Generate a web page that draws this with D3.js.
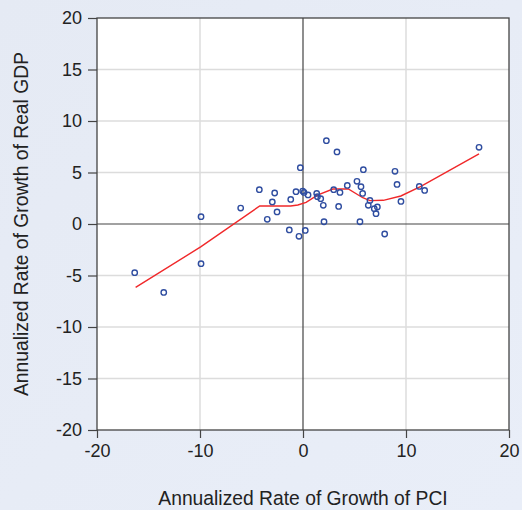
<!DOCTYPE html>
<html>
<head>
<meta charset="utf-8">
<script src="https://cdn.jsdelivr.net/npm/d3@7"></script>
<style>
  html, body { margin: 0; padding: 0; background: #e7ecf6; }
  svg { display: block; }
</style>
</head>
<body>
<svg id="chart" width="522" height="510"></svg>
<script>
// ---- data ----
const pciGrowth = [-16.34, -13.52, -9.90, -9.90, -6.05, -4.24, -3.47, -2.98, -2.75, -2.52,
  -1.33, -1.19, -0.68, -0.39, -0.26, -0.03, 0.10, 0.22, 0.49, 1.33,
  1.40, 1.72, 1.97, 2.04, 2.27, 2.98, 3.30, 3.46, 3.59, 4.30,
  5.24, 5.53, 5.63, 5.79, 5.86, 6.34, 6.50, 6.92, 7.22, 7.09,
  7.93, 8.93, 9.13, 9.51, 11.29, 11.81, 17.09];
const gdpGrowth = [-4.73, -6.64, 0.71, -3.85, 1.55, 3.33, 0.45, 2.14, 3.01, 1.17,
  -0.58, 2.39, 3.14, -1.20, 5.47, 3.20, 3.07, -0.62, 2.82, 2.97,
  2.65, 2.46, 1.81, 0.22, 8.09, 3.33, 7.00, 1.71, 3.07, 3.75,
  4.14, 0.22, 3.62, 2.97, 5.27, 1.81, 2.29, 1.49, 1.65, 1.00,
  -0.97, 5.11, 3.84, 2.19, 3.65, 3.26, 7.44];
const fitX = [-16.25, -9.90, -4.20, -1.20, -0.50, 0.30, 1.40, 2.90, 4.40, 5.80, 6.50, 7.80, 9.50, 11.40, 17.09];
const fitY = [-6.16, -2.20, 1.75, 1.75, 1.85, 2.10, 2.80, 3.40, 3.40, 2.55, 2.27, 2.30, 2.72, 3.62, 6.80];
const xTicks = [-20, -10, 0, 10, 20];
const yTicks = [-20, -15, -10, -5, 0, 5, 10, 15, 20];
const xTitle = "Annualized Rate of Growth of PCI";
const yTitle = "Annualized Rate of Growth of Real GDP";

// ---- layout ----
const svg = d3.select("#chart");
const L = 97, R = 509, T = 18, B = 430;
const font = "'Liberation Sans', Arial, sans-serif";

const defs = svg.append("defs");
const grad = defs.append("linearGradient").attr("id", "bg").attr("x1", 0).attr("y1", 0).attr("x2", 1).attr("y2", 1);
grad.append("stop").attr("offset", "0%").attr("stop-color", "#e5eaf4");
grad.append("stop").attr("offset", "100%").attr("stop-color", "#e9eef8");
svg.append("rect").attr("width", 522).attr("height", 510).attr("fill", "url(#bg)");

const x = d3.scaleLinear().domain([-20, 20]).range([L, R]);
const y = d3.scaleLinear().domain([-20, 20]).range([B, T]);

svg.append("rect").attr("x", L).attr("y", T).attr("width", R - L).attr("height", B - T).attr("fill", "#ffffff");

// grid
svg.append("g").selectAll("line").data(xTicks.filter(d => d !== 0 && d > -20 && d < 20)).join("line")
  .attr("x1", d => x(d)).attr("x2", d => x(d)).attr("y1", T).attr("y2", B)
  .attr("stroke", "#dcdcdc").attr("stroke-width", 1.5);
svg.append("g").selectAll("line").data(yTicks.filter(d => d !== 0 && d > -20 && d < 20)).join("line")
  .attr("y1", d => y(d)).attr("y2", d => y(d)).attr("x1", L).attr("x2", R)
  .attr("stroke", "#dcdcdc").attr("stroke-width", 1.5);

// zero lines
svg.append("line").attr("x1", x(0)).attr("x2", x(0)).attr("y1", T).attr("y2", B).attr("stroke", "#444").attr("stroke-width", 1.2);
svg.append("line").attr("y1", y(0)).attr("y2", y(0)).attr("x1", L).attr("x2", R).attr("stroke", "#444").attr("stroke-width", 1.2);

// border
svg.append("rect").attr("x", L).attr("y", T).attr("width", R - L).attr("height", B - T)
  .attr("fill", "none").attr("stroke", "#444").attr("stroke-width", 1.3);

// axes
const fmt = d => String(d);
const xAxis = svg.append("g").attr("transform", `translate(0,${B})`)
  .call(d3.axisBottom(x).tickValues(xTicks).tickSize(8).tickPadding(6).tickFormat(fmt));
const yAxis = svg.append("g").attr("transform", `translate(${L},0)`)
  .call(d3.axisLeft(y).tickValues(yTicks).tickSize(9).tickPadding(6).tickFormat(fmt));
[xAxis, yAxis].forEach(g => {
  g.select(".domain").remove();
  g.selectAll(".tick line").attr("stroke", "#444").attr("stroke-width", 1.2);
  g.selectAll(".tick text").attr("fill", "#222").style("font-family", font).style("font-size", "18px");
});
xAxis.selectAll(".tick text").attr("dy", "0.71em");

// fit line
const pts = fitX.map((v, i) => [v, fitY[i]]);
svg.append("path").datum(pts)
  .attr("d", d3.line().x(d => x(d[0])).y(d => y(d[1])))
  .attr("fill", "none").attr("stroke", "#f0282a").attr("stroke-width", 1.4);

// scatter points
const data = pciGrowth.map((v, i) => [v, gdpGrowth[i]]);
svg.append("g").selectAll("circle").data(data).join("circle")
  .attr("cx", d => x(d[0])).attr("cy", d => y(d[1])).attr("r", 2.7)
  .attr("fill", "none").attr("stroke", "#2f4da0").attr("stroke-width", 1.4);

// titles
svg.append("text").attr("x", (L + R) / 2).attr("y", 505).attr("text-anchor", "middle")
  .style("font-family", font).style("font-size", "19.3px").attr("fill", "#222").text(xTitle);
svg.append("text").attr("transform", `translate(28,${(T + B) / 2}) rotate(-90)`).attr("text-anchor", "middle")
  .style("font-family", font).style("font-size", "19.3px").attr("fill", "#222").text(yTitle);
</script>
</body>
</html>
